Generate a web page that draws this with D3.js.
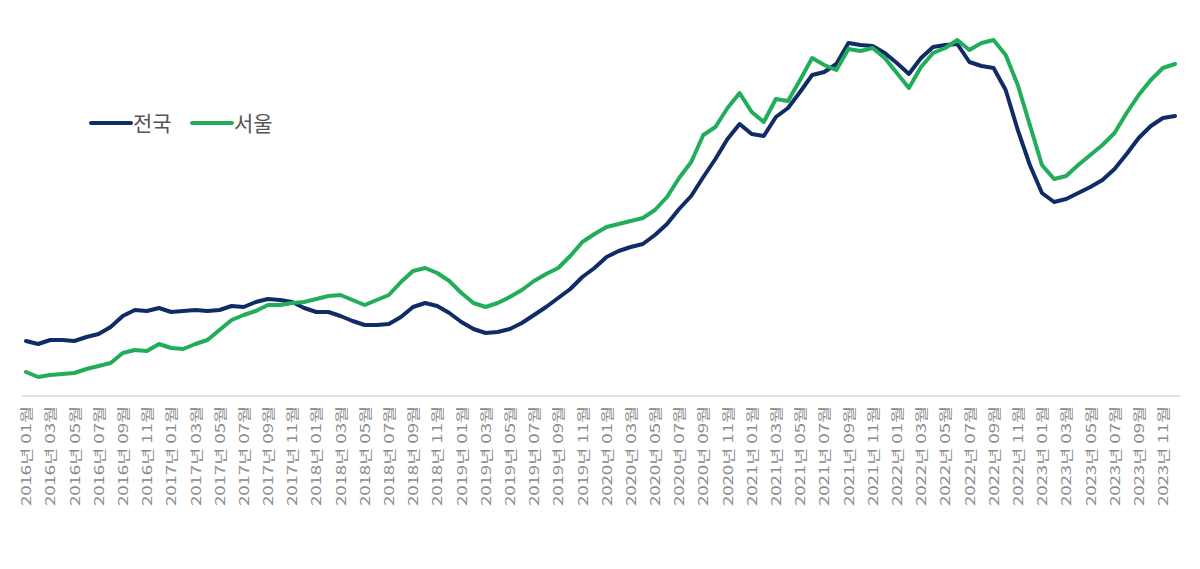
<!DOCTYPE html>
<html><head><meta charset="utf-8">
<script src="https://cdn.jsdelivr.net/npm/d3@7"></script>
<style>html,body{margin:0;padding:0;background:#fff;}svg{display:block;}</style>
</head><body>
<svg id="chart" width="1200" height="569"></svg>
<script>
const startYear = 2016, startMonth = 1, monthCount = 96;
const seriesNames = ["전국", "서울"];
const seriesColors = ["#0f2c66", "#21ad59"];
// relative index values (no y axis in original)
const national = [59,56,60,60,59,63,66,73,84,90,89,92,88,89,90,89,90,94,93,98,101,100,98,92,
  88,88,84,79,75,75,76,83,93,97,94,87,78,71,67,68,71,77,85,93,102,111,123,132,
  143,149,153,156,165,176,191,204,223,241,261,276,266,264,283,292,308,325,328,336,357,355,354,347,
  337,326,342,353,355,356,338,334,332,310,270,235,207,198,201,207,213,220,231,246,262,274,282,284];
const seoul = [28,23,25,26,27,31,34,37,47,50,49,56,52,51,56,60,70,80,85,89,95,95,97,98,
  101,104,105,100,95,100,105,118,129,132,127,119,107,97,93,97,103,110,119,126,132,144,158,166,
  173,176,179,182,190,203,222,238,265,273,292,307,288,278,301,299,320,342,335,330,351,349,352,342,
  327,312,333,347,352,360,350,357,360,345,315,275,235,221,224,235,245,255,267,287,305,320,332,336];

const months = d3.range(monthCount).map(i => {
  const m = (startMonth - 1 + i) % 12 + 1;
  const y = startYear + Math.floor((startMonth - 1 + i) / 12);
  return {i, y, m, label: `${y}년 ${String(m).padStart(2,"0")}월`};
});
const tickLabels = months.filter(d => d.m % 2 === 1).map(d => d.label);

const svg = d3.select("#chart");
const x = d3.scalePoint().domain(months.map(d => d.label)).range([26, 1175]);
const y = d3.scaleLinear().domain([0, 370]).range([400, 30]);

// axis
const axis = d3.axisBottom(x).tickValues(tickLabels).tickSize(0).tickPadding(0);
const ag = svg.append("g").attr("transform", "translate(0,396)").call(axis);
ag.select(".domain").attr("d", "M22,0H1180").attr("stroke", "#d9d9d9").attr("stroke-width", 1.6);
ag.selectAll(".tick text")
  .attr("transform", "rotate(-90)")
  .attr("x", -10).attr("y", 0).attr("dy", "0.36em")
  .attr("text-anchor", "end")
  .attr("fill", "#8a8a8a")
  .attr("font-family", "'Noto Sans CJK KR', 'Noto Sans', sans-serif")
  .attr("font-size", 13)
  .attr("textLength", 100)
  .attr("lengthAdjust", "spacingAndGlyphs");

const line = d3.line().x((d, i) => x(months[i].label)).y(d => y(d));
[national, seoul].forEach((s, k) => {
  svg.append("path").datum(s)
    .attr("fill", "none").attr("stroke", seriesColors[k])
    .attr("stroke-width", 4).attr("stroke-linejoin", "round").attr("stroke-linecap", "round")
    .attr("d", line);
});

// legend
const legendX = [91, 192];
seriesNames.forEach((n, k) => {
  const g = svg.append("g").attr("transform", `translate(${legendX[k]},123)`);
  g.append("line").attr("x1", 0).attr("x2", 40).attr("y1", 0).attr("y2", 0)
    .attr("stroke", seriesColors[k]).attr("stroke-width", 4).attr("stroke-linecap", "round");
  g.append("text").attr("x", 42).attr("y", 0).attr("dy", "0.36em")
    .attr("fill", "#555").attr("font-size", 21)
    .attr("font-family", "'Noto Sans CJK KR', 'Noto Sans', sans-serif")
    .text(n);
});
</script>
</body></html>
